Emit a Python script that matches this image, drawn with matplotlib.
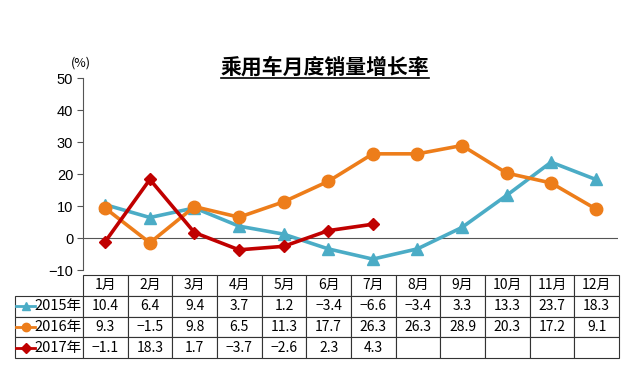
import numpy as np
import matplotlib
matplotlib.use('Agg')
import matplotlib.pyplot as plt
from matplotlib.lines import Line2D

plt.rcParams['font.family'] = ['Noto Sans CJK SC', 'DejaVu Sans']

# data
months = ['1月', '2月', '3月', '4月', '5月', '6月', '7月', '8月', '9月', '10月', '11月', '12月']
series_names = ['2015年', '2016年', '2017年']
g2015 = [10.4, 6.4, 9.4, 3.7, 1.2, -3.4, -6.6, -3.4, 3.3, 13.3, 23.7, 18.3]
g2016 = [9.3, -1.5, 9.8, 6.5, 11.3, 17.7, 26.3, 26.3, 28.9, 20.3, 17.2, 9.1]
g2017 = [-1.1, 18.3, 1.7, -3.7, -2.6, 2.3, 4.3]

colors = ['#4bacc6', '#ed7d1a', '#c00000']
markers = ['^', 'o', 'D']
msizes = [8, 9, 6.5]

W, H = 640, 378
fig = plt.figure(figsize=(W / 100, H / 100), dpi=100)

# main plot area
ax = fig.add_axes([83 / W, (H - 270) / H, 535 / W, 192 / H])
x = np.arange(1, 13)
for vals, c, m, ms in zip([g2015, g2016, g2017], colors, markers, msizes):
    ax.plot(x[:len(vals)], vals, color=c, lw=2.6, marker=m, markersize=ms,
            markeredgecolor=c, zorder=3)
ax.axhline(0, color='#555555', lw=0.8, zorder=1)
ax.set_xlim(0.5, 12.5)
ax.set_ylim(-10, 50)
ax.set_yticks(np.arange(-10, 51, 10))
ax.set_xticks([])
for s in ['top', 'right', 'bottom']:
    ax.spines[s].set_visible(False)
ax.spines['left'].set_color('#555555')
ax.spines['left'].set_linewidth(0.8)
ax.tick_params(axis='y', direction='out', length=4, width=0.8, color='#555555',
               labelsize=10.5, pad=3)
for lab in ax.get_yticklabels():
    lab.set_family(['Liberation Sans', 'DejaVu Sans'])

fig.text(81 / W, 1 - 63 / H, '(%)', fontsize=9, ha='center', va='center')

# title with underline
title = fig.text(325 / W, 1 - 67 / H, '乘用车月度销量增长率', fontsize=15,
                 fontweight='bold', ha='center', va='center')
fig.canvas.draw()
bb = title.get_window_extent().transformed(fig.transFigure.inverted())
fig.add_artist(Line2D([bb.x0, bb.x1], [1 - 77.5 / H] * 2, color='black', lw=1.2,
                      transform=fig.transFigure))

# data table
def fmt(v):
    return f'{v:.1f}'.replace('-', '\u2212')

rows = [[''] + months]
for name, vals in zip(series_names, [g2015, g2016, g2017]):
    rows.append([name] + [fmt(v) for v in vals] + [''] * (12 - len(vals)))

tax = fig.add_axes([15 / W, (H - 358) / H, 604 / W, 83 / H])
tax.axis('off')
tbl = tax.table(cellText=rows, cellLoc='center', bbox=[0, 0, 1, 1])
tbl.auto_set_font_size(False)
first_w = 68 / 604
other_w = (1 - first_w) / 12
for (r, c), cell in tbl.get_celld().items():
    cell.set_width(first_w if c == 0 else other_w)
    cell.set_linewidth(0.8)
    cell.set_edgecolor('#333333')
    cell.get_text().set_fontsize(10)
    if c == 0:
        cell.get_text().set_fontsize(10.5)
        cell.get_text().set_ha('right')
        cell._loc = 'right'
        cell.PAD = 0.02
tbl[0, 0].visible_edges = ''

# legend keys in the row label cells
row_h = 1 / 4
key_ms = [6, 6, 5]
for i, (c, m, ms) in enumerate(zip(colors, markers, key_ms)):
    yc = 1 - row_h * (i + 1.5)
    tax.add_line(Line2D([0.002, 0.033], [yc, yc], color=c, lw=2.0,
                        transform=tax.transAxes, clip_on=False))
    tax.add_line(Line2D([0.0175], [yc], color=c, marker=m, markersize=ms,
                        transform=tax.transAxes, clip_on=False))

fig.savefig('out.png', dpi=100)
